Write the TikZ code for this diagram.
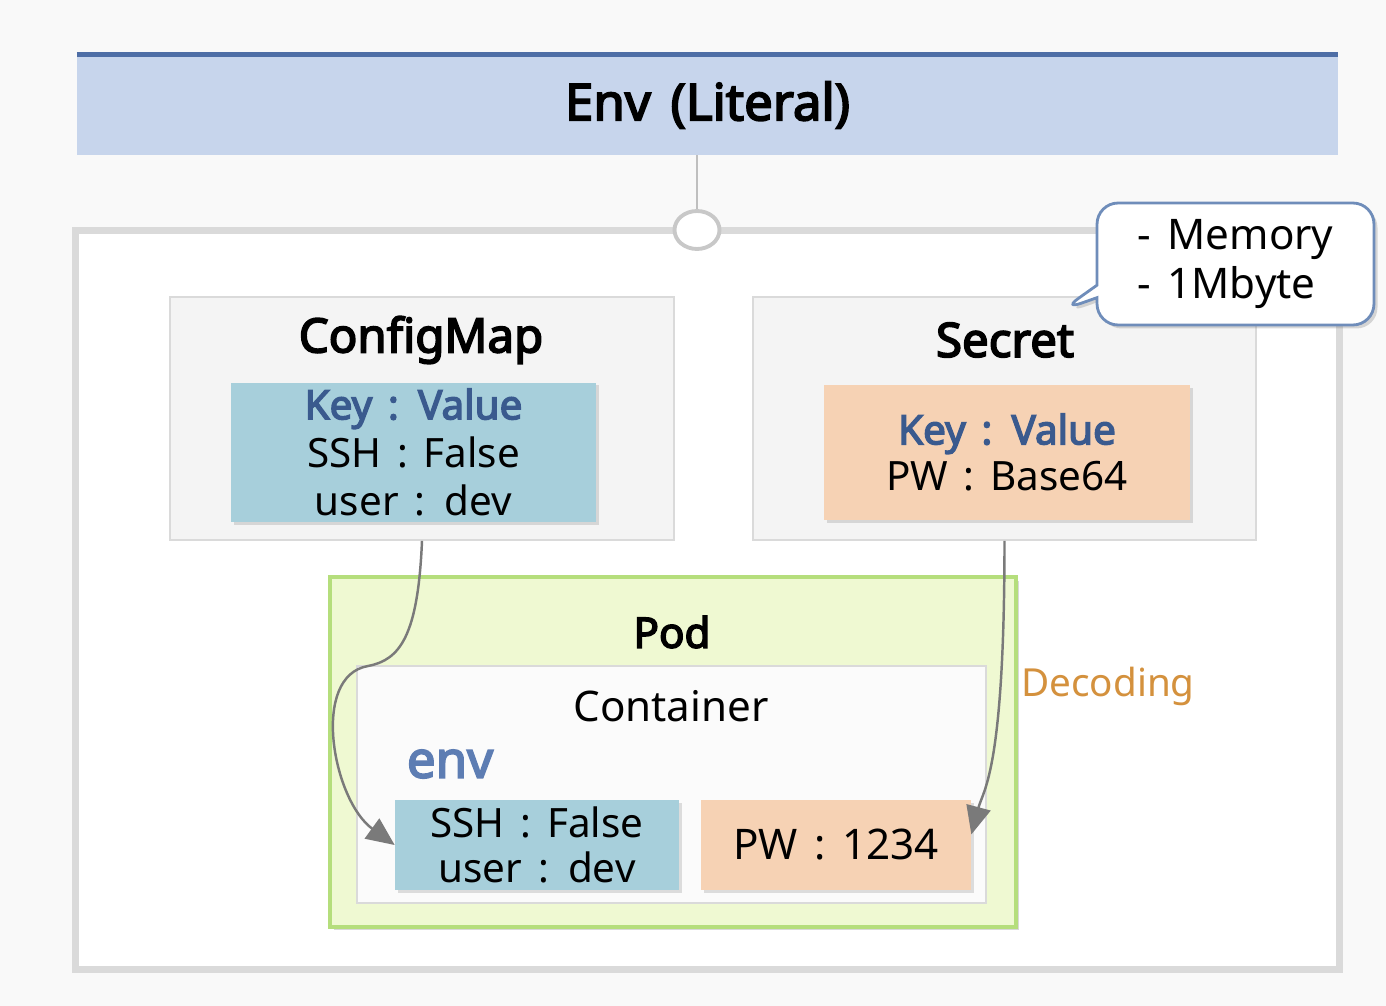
\documentclass[tikz,border=0pt]{standalone}
\usepackage{fontspec}
\setmainfont{Noto Sans}[WordSpace=1.5,BoldFont={Noto Sans},BoldFeatures={FakeBold=3.5}]
\usetikzlibrary{arrows.meta,shadows,shapes.callouts,shapes.geometric}

\definecolor{bgcol}{HTML}{F9F9F9}
\definecolor{framecol}{HTML}{DADADA}
\definecolor{panelcol}{HTML}{F4F4F4}
\definecolor{titlecol}{HTML}{C7D5EC}
\definecolor{titleline}{HTML}{4E6EA6}
\definecolor{kvblue}{HTML}{A7CFDB}
\definecolor{kvorange}{HTML}{F6D2B4}
\definecolor{keycol}{HTML}{3A5A8E}
\definecolor{podfill}{HTML}{EFF9D2}
\definecolor{podline}{HTML}{B5DE7C}
\definecolor{envcol}{HTML}{5D7DB3}
\definecolor{decocol}{HTML}{D4913D}
\definecolor{conncol}{HTML}{7A7A7A}
\definecolor{memoline}{HTML}{6F8DBA}

\begin{document}
\begin{tikzpicture}[x=0.02cm,y=-0.02cm,
  panel/.style={draw=framecol,fill=panelcol,line width=1pt},
  kvbox/.style={minimum width=7.3cm,minimum height=2.7cm,align=center,
    font=\fontsize{23}{27.5}\selectfont,
    drop shadow={shadow xshift=1.5pt,shadow yshift=-1.5pt,opacity=.25}},
  boxlbl/.style={font=\fontsize{27}{30}\selectfont\bfseries},
  conn/.style={draw=conncol,line width=1.4pt,-{Triangle[length=16pt,width=14pt]}}]

\useasboundingbox[fill=bgcol] (0,0) rectangle (1386,1006);

% title band
\node[fill=titlecol,minimum width=25.22cm,minimum height=2cm,
  font=\fontsize{29}{34}\selectfont\bfseries] (title) at (707.5,105) {Env (Literal)};
\draw[titleline,line width=2.5pt] (title.north west) -- (title.north east);

% outer frame
\node[draw=framecol,fill=white,line width=4pt,minimum width=25.3cm,
  minimum height=14.8cm] (outer) at (707.5,600) {};
\node[ellipse,draw=framecol!80!gray,fill=white,line width=2.2pt,
  minimum width=0.9cm,minimum height=0.76cm] (hub) at (697,230) {};
\draw[framecol!70!gray,line width=.8pt] (title.south -| hub) -- (hub.north);

% ConfigMap
\node[panel,minimum width=10.08cm,minimum height=4.86cm] (cm) at (422,418.5) {};
\node[boxlbl] (cmlbl) at (421,340) {ConfigMap};
\node[kvbox,fill=kvblue] (cmkv) at (413.5,452.5)
  {\textcolor{keycol}{\bfseries Key : Value}\\SSH : False\\user : dev};

% Secret
\node[panel,minimum width=10.06cm,minimum height=4.86cm] (sec) at (1004.5,418.5) {};
\node[boxlbl] (seclbl) at (1005,340) {Secret};
\node[kvbox,fill=kvorange,minimum width=7.32cm] (seckv) at (1007,452.5)
  {\textcolor{keycol}{\bfseries Key : Value}\\[-1pt]PW : Base64};

% Pod
\node[draw=podline,fill=podfill,line width=2.5pt,minimum width=13.72cm,
  minimum height=7cm,drop shadow={shadow xshift=2pt,shadow yshift=-2pt,opacity=.3}]
  (pod) at (673,752) {};
\node[font=\fontsize{24}{27}\selectfont\bfseries] (podlbl) at (672,632) {Pod};
\node[draw=framecol,fill=white!97!gray,line width=1pt,minimum width=12.58cm,
  minimum height=4.74cm] (ctr) at (671.5,784.5) {};
\node[font=\fontsize{24}{28}\selectfont] (ctrlbl) at (671,706) {Container};
\node[font=\fontsize{29}{32}\selectfont\bfseries,text=envcol] (envlbl) at (450,764) {env};
\node[kvbox,fill=kvblue,minimum width=5.68cm,minimum height=1.8cm] (envkv)
  at (537,845) {SSH : False\\[-2pt]user : dev};
\node[kvbox,fill=kvorange,minimum width=5.4cm,minimum height=1.8cm,
  font=\fontsize{24}{28}\selectfont] (pwkv) at (836,845) {PW : 1234};

\node[font=\fontsize{22}{26}\selectfont,text=decocol] (deco) at (1108,686) {Decoding};

% memo
\node[rectangle callout,callout absolute pointer={(1062,310)},draw=memoline,
  fill=white,line width=1.6pt,rounded corners=12pt,minimum width=5.54cm,
  minimum height=2.44cm,align=left,font=\fontsize{24}{27.5}\selectfont,
  drop shadow={shadow xshift=2pt,shadow yshift=-2pt,opacity=.3}]
  (memo) at (1235.5,264) {- Memory\\- 1Mbyte};

% connectors
\coordinate (bend) at (368,666);
\draw[conn] (cm.south) .. controls +(-4,95) and +(32,-6) .. (bend)
  .. controls +(-58,10) and +(-62,-45) .. (envkv.west);
\draw[conn] (sec.south) .. controls +(0,230) and +(12,-45) .. ([yshift=6pt]pwkv.east);

\end{tikzpicture}
\end{document}
